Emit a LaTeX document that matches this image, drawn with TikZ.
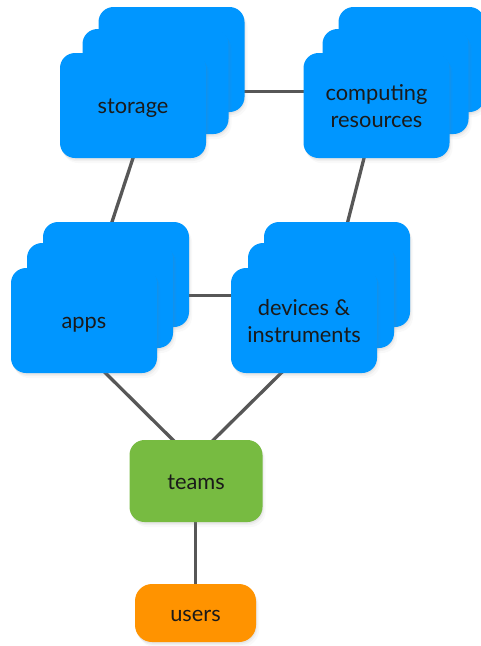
\documentclass[tikz,border=0pt]{standalone}
\usepackage{fontspec}
\setmainfont{Lato}
\usetikzlibrary{shadows,calc,backgrounds}
\definecolor{boxblue}{HTML}{0096FF}
\definecolor{boxgreen}{HTML}{77BB41}
\definecolor{boxorange}{HTML}{FF9300}
\definecolor{linegray}{HTML}{575757}
\definecolor{textdark}{HTML}{1A1A1A}
\newcommand{\boxlbl}[1]{\raisebox{0pt}[\dimexpr\height+6pt\relax][\depth]{\begin{tabular}{@{}c@{}}#1\end{tabular}}}
\tikzset{
  softshadow/.style={
    drop shadow={shadow xshift=0.5pt,shadow yshift=-1.5pt,opacity=.10},
    drop shadow={shadow xshift=1.5pt,shadow yshift=-3pt,opacity=.07},
    drop shadow={shadow xshift=3pt,shadow yshift=-5pt,opacity=.05}},
  anybox/.style={rounded corners=15pt, inner sep=0pt, align=center,
    text=textdark, font=\fontsize{21.8}{27}\selectfont, softshadow},
  bluebox/.style={anybox, fill=boxblue, minimum width=146pt, minimum height=105pt},
  teamsbox/.style={anybox, fill=boxgreen, minimum width=133pt, minimum height=82pt},
  usersbox/.style={anybox, fill=boxorange, minimum width=121pt, minimum height=58pt, rounded corners=17pt},
  link/.style={draw=linegray, line width=3.3pt}
}
\begin{document}
\begin{tikzpicture}[x=1pt,y=-1pt]
\useasboundingbox (0,0) rectangle (480,646);
% storage stack
\node[bluebox] (storage3) at (171.5,59.5) {};
\node[bluebox] (storage2) at (155.5,81.5) {};
\node[bluebox] (storage)  at (133,105.5) {\boxlbl{storage}};
% computing stack
\node[bluebox] (computing3) at (411.5,59.5) {};
\node[bluebox] (computing2) at (395.5,81.5) {};
\node[bluebox] (computing)  at (376.5,105.5) {\boxlbl{computing\\resources}};
% apps stack
\node[bluebox] (apps3) at (116,274.5) {};
\node[bluebox] (apps2) at (100,295.5) {};
\node[bluebox] (apps)  at (84,320.5) {\boxlbl{apps}};
% devices stack
\node[bluebox] (devices3) at (337,274.5) {};
\node[bluebox] (devices2) at (321,295.5) {};
\node[bluebox] (devices)  at (304,320.5) {\boxlbl{devices \&\\instruments}};
% teams and users
\node[teamsbox] (teams) at (196,481) {\boxlbl{teams}};
\node[usersbox] (users) at (195.5,613) {\boxlbl{users}};
\begin{pgfonlayer}{background}
\draw[link] ($(storage3.east)+(-5,32.2)$) -- ($(computing.west)+(5,-13.8)$);
\draw[link] ($(storage.south)+(1.3,-4)$) -- ($(apps3.north)+(-5.3,4)$);
\draw[link] ($(computing.south)+(-11.5,-4)$) -- ($(devices3.north)+(9.7,4)$);
\draw[link] ($(apps3.east)+(-5,20.8)$) -- ($(devices.west)+(5,-25.2)$);
\draw[link] ($(apps.south)+(17.7,-4)$) -- ($(teams.north)+(-19.2,4)$);
\draw[link] ($(devices.south)+(-19,-4)$) -- ($(teams.north)+(13.5,4)$);
\draw[link] ($(teams.south)+(-0.5,-4)$) -- ($(users.north)+(0,4)$);
\end{pgfonlayer}
\end{tikzpicture}
\end{document}
